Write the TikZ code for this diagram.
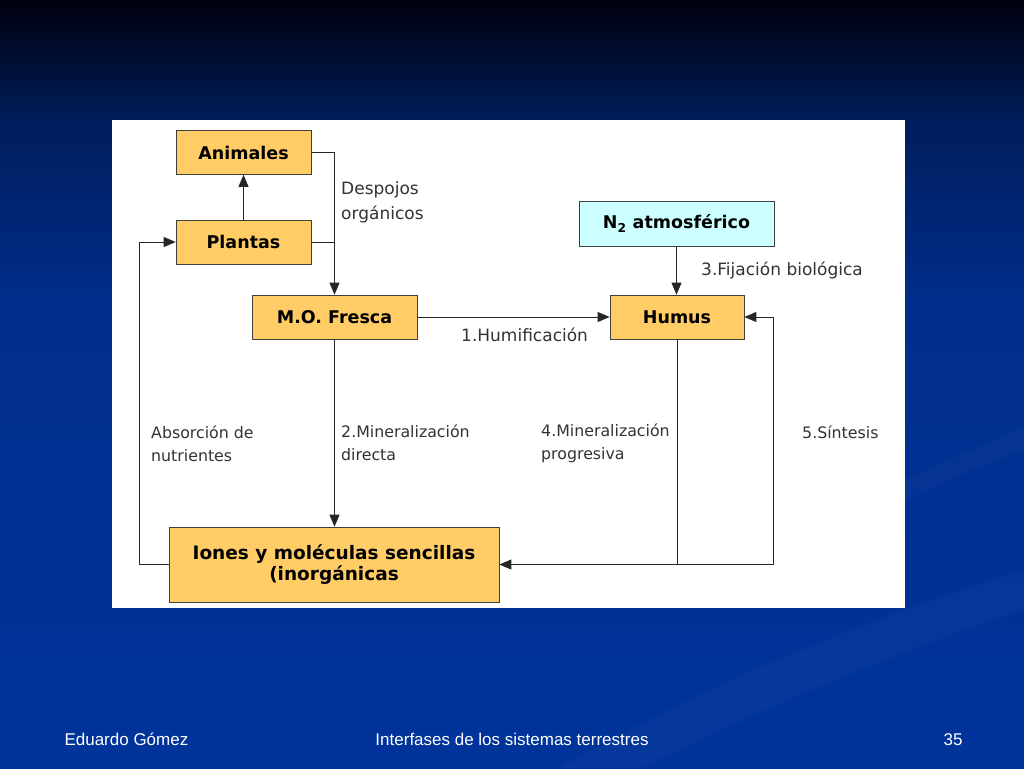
\documentclass[tikz,border=0pt]{standalone}
\usepackage{fontspec}
\setmainfont{DejaVu Sans}
\newfontfamily\footfont{Liberation Sans}
\usetikzlibrary{arrows.meta,positioning}
\definecolor{boxorange}{RGB}{255,204,102}
\definecolor{nitrocyan}{RGB}{204,255,255}
\definecolor{bgtop}{RGB}{0,0,14}
\definecolor{bgupper}{RGB}{0,30,92}
\definecolor{bgmid}{RGB}{0,46,140}
\definecolor{bgbottom}{RGB}{0,52,155}
% the picture's box is mapped onto 25bp..75bp of the shading
\pgfdeclareverticalshading{slidebg}{100bp}{color(0bp)=(bgbottom); color(25bp)=(bgbottom); color(55bp)=(bgmid); color(67bp)=(bgupper); color(75bp)=(bgtop); color(100bp)=(bgtop)}
\tikzset{%
  % Specifications for style of nodes:
            base/.style = {draw=black!75, line width=0.7pt, minimum height=44pt,
                           text centered, font=\fontsize{17.5}{21}\selectfont\bfseries},
  stock/.style = {base, fill=boxorange},
  nitro/.style = {base, fill=nitrocyan},
    tag/.style = {anchor=west, inner sep=0pt, align=left, text=black!80,
                  font=\fontsize{17}{25}\selectfont},
 lowtag/.style = {tag, font=\fontsize{15.8}{23}\selectfont},
   foot/.style = {anchor=base, text=white, font=\footfont\fontsize{17}{20}\selectfont},
pil/.style={
           -{Triangle[length=12pt,width=10pt]},
           draw=black!85,
           line width=0.8pt,},
wire/.style={draw=black!85, line width=0.8pt}
}

\begin{document}
\begin{tikzpicture}[x=1pt,y=-1pt]
\useasboundingbox (0,0) rectangle (1024,768);
\shade[shading=slidebg] (0,0) rectangle (1024,768);
\fill[white,opacity=0.025] (560,768) .. controls (750,660) and (900,610) .. (1024,570)
  -- (1024,610) .. controls (900,650) and (760,710) .. (640,768) -- cycle;
\fill[white,opacity=0.025] (905,480) .. controls (950,460) and (990,440) .. (1024,428)
  -- (1024,450) .. controls (990,462) and (950,480) .. (905,500) -- cycle;
\fill[white] (112,120) rectangle (905,608);

\node (animales)	[stock,minimum width=135pt]	at (243.5,152.5)	{Animales};
\node (plantas)	[stock,minimum width=135pt]	at (243.5,242)	{Plantas};
\node (fresca)	[stock,minimum width=165pt]	at (334.5,317)	{M.O. Fresca};
\node (nitro)	[nitro,minimum width=195pt,minimum height=45pt]	at (676.5,223.5)	{N\textsubscript{2} atmosférico};
\node (humus)	[stock,minimum width=134pt]	at (677,317)	{Humus};
\node (iones)	[stock,minimum width=330pt,minimum height=75pt,align=center,
               font=\fontsize{18.5}{25}\selectfont\bfseries]	at (334,564.5)	{\raisebox{1.5pt}{\shortstack{Iones y moléculas sencillas\\(inorgánicas}}};

\coordinate (sintesis) at (773,564.5);
\coordinate (absorcion) at (139,564.5);

\draw[pil] (plantas) -- (animales);
\draw[pil] (animales.east) -| (fresca.north);
\draw[wire] (plantas.east) -- (plantas.east -| fresca.north);
\draw[pil] (fresca) -- (humus);
\draw[pil] (nitro.south) -- (nitro.south |- humus.north);
\draw[pil] (fresca.south) -- (fresca.south |- iones.north);
\draw[pil] (humus.south) |- (iones.east);
\draw[pil] (humus.south |- iones.east) -- (sintesis) |- (humus.east);
\draw[pil] (iones.west) -- (absorcion) |- (plantas.west);

\node (despojosTag)	[tag]	at (341,202.5)	{Despojos\\orgánicos};
\node (humifTag)	[tag]	at (461,335)	{1.Humificación};
\node (fijacionTag)	[tag]	at (701,270)	{3.Fijación biológica};
\node (absorcionTag)	[lowtag]	at (151,444)	{Absorción de\\nutrientes};
\node (directaTag)	[lowtag]	at (341,443)	{2.Mineralización\\directa};
\node (progresivaTag)	[lowtag]	at (541,443)	{4.Mineralización\\progresiva};
\node (sintesisTag)	[lowtag]	at (802,432)	{5.Síntesis};

\node (autor)	[foot,anchor=base west]	at (61,745)	{Eduardo Gómez};
\node (titulo)	[foot]	at (512,745)	{Interfases de los sistemas terrestres};
\node (pagina)	[foot]	at (953,745)	{35};

\end{tikzpicture}
\end{document}
